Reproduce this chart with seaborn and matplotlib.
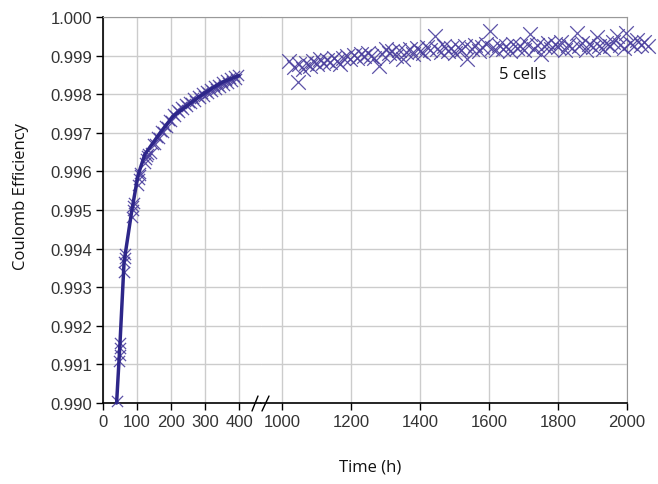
import matplotlib
matplotlib.use("Agg")
import matplotlib.pyplot as plt
import matplotlib.lines as mlines
import seaborn as sns
import pandas as pd

# early cycling phase (h, coulomb efficiency)
early_time = [40, 48, 49, 50, 51, 62, 63, 64, 66, 86, 88, 89, 90, 104, 106, 108, 110,
              124, 127, 130, 133, 140, 146, 152, 158, 164, 170, 176, 182, 188, 194, 200,
              206, 212, 218, 224, 230, 236, 242, 248, 254, 260, 266, 272, 278, 284, 290,
              296, 302, 308, 314, 320, 326, 332, 338, 344, 350, 356, 362, 368, 374, 380,
              386, 392, 398]
early_ce = [0.99005, 0.99110, 0.99125, 0.99142, 0.99155, 0.99340, 0.99365, 0.99375, 0.99385,
            0.99482, 0.99500, 0.99510, 0.99518, 0.99566, 0.99580, 0.99590, 0.99597,
            0.99622, 0.99633, 0.99640, 0.99645, 0.99648, 0.99670, 0.99672, 0.99688, 0.99686,
            0.99705, 0.99701, 0.99717, 0.99716, 0.99732, 0.99731, 0.99748, 0.99744, 0.99758,
            0.99753, 0.99767, 0.99762, 0.99775, 0.99769, 0.99781, 0.99776, 0.99789, 0.99783,
            0.99795, 0.99790, 0.99802, 0.99796, 0.99808, 0.99802, 0.99814, 0.99808, 0.99820,
            0.99814, 0.99825, 0.99819, 0.99831, 0.99825, 0.99837, 0.99830, 0.99841, 0.99835,
            0.99847, 0.99840, 0.99850]

# trend line through the early phase
trend_time = [40, 50, 62, 85, 103, 123, 168, 206, 250, 285, 320, 353, 390, 400]
trend_ce = [0.99000, 0.99155, 0.99366, 0.99500, 0.99590, 0.99644, 0.99700, 0.99743,
            0.99772, 0.99795, 0.99815, 0.99832, 0.99845, 0.99848]

# long-term phase
late_time = [1020, 1035, 1046, 1050, 1062, 1070, 1080, 1090, 1100, 1110, 1120, 1130, 1140,
             1150, 1160, 1168, 1178, 1188, 1198, 1208, 1218, 1228, 1238, 1248, 1258, 1268,
             1280, 1290, 1300, 1310, 1320, 1330, 1340, 1350, 1360, 1370, 1380, 1390, 1400,
             1410, 1420, 1430, 1443, 1450, 1460, 1470, 1480, 1490, 1500, 1510, 1520, 1530,
             1536, 1550, 1560, 1570, 1580, 1590, 1603, 1610, 1620, 1630, 1640, 1650, 1660,
             1670, 1680, 1690, 1700, 1710, 1719, 1730, 1740, 1750, 1760, 1770, 1780, 1790,
             1800, 1810, 1820, 1830, 1840, 1855, 1860, 1870, 1880, 1890, 1900, 1913, 1920,
             1930, 1940, 1950, 1960, 1971, 1980, 1990, 1998, 2010, 2020, 2030, 2040, 2050,
             2060]
late_ce = [0.99887, 0.99870, 0.99831, 0.99878, 0.99865, 0.99880, 0.99873, 0.99885, 0.99878,
           0.99891, 0.99880, 0.99888, 0.99884, 0.99895, 0.99886, 0.99878, 0.99893, 0.99899,
           0.99890, 0.99902, 0.99895, 0.99905, 0.99898, 0.99908, 0.99900, 0.99895, 0.99873,
           0.99905, 0.99918, 0.99908, 0.99912, 0.99900, 0.99915, 0.99891, 0.99910, 0.99918,
           0.99905, 0.99920, 0.99912, 0.99908, 0.99922, 0.99915, 0.99952, 0.99918, 0.99910,
           0.99925, 0.99912, 0.99920, 0.99908, 0.99922, 0.99915, 0.99926, 0.99891, 0.99918,
           0.99928, 0.99912, 0.99922, 0.99930, 0.99964, 0.99920, 0.99915, 0.99928, 0.99918,
           0.99925, 0.99912, 0.99930, 0.99920, 0.99926, 0.99915, 0.99930, 0.99955, 0.99918,
           0.99928, 0.99905, 0.99925, 0.99932, 0.99918, 0.99930, 0.99922, 0.99935, 0.99915,
           0.99928, 0.99920, 0.99958, 0.99925, 0.99932, 0.99915, 0.99930, 0.99922, 0.99948,
           0.99925, 0.99918, 0.99932, 0.99925, 0.99935, 0.99950, 0.99928, 0.99920, 0.99958,
           0.99932, 0.99925, 0.99940, 0.99928, 0.99935, 0.99925]

y_ticks = [0.990, 0.991, 0.992, 0.993, 0.994, 0.995, 0.996, 0.997, 0.998, 0.999, 1.000]
early_ticks = [0, 100, 200, 300, 400]
late_ticks = [1000, 1200, 1400, 1600, 1800, 2000]

MARK = '#4b409e'
LINE = '#2d2689'
GRID = '#cccccc'
FRAME = '#999999'
TICK_FONT = 'Liberation Sans'
LABEL_FONT = 'Open Sans'

sns.set_style('white')

W, H = 658, 485
fig = plt.figure(figsize=(W / 100, H / 100), dpi=100)
ax1 = fig.add_axes([103 / W, 81 / H, 158 / W, 386 / H])
ax2 = fig.add_axes([261 / W, 81 / H, 366 / W, 386 / H], sharey=ax1)

early = pd.DataFrame({'time': early_time, 'ce': early_ce})
trend = pd.DataFrame({'time': trend_time, 'ce': trend_ce})
late = pd.DataFrame({'time': late_time, 'ce': late_ce})

sns.scatterplot(data=early, x='time', y='ce', ax=ax1, marker='x', s=65, color=MARK,
                linewidth=0.9, alpha=0.9, clip_on=False, zorder=3)
sns.lineplot(data=trend, x='time', y='ce', ax=ax1, color=LINE, linewidth=2.5,
             clip_on=False, zorder=4)
sns.scatterplot(data=late, x='time', y='ce', ax=ax2, marker='x', s=110, color=MARK,
                linewidth=0.9, alpha=0.9, clip_on=False, zorder=3)

ax1.set_xlim(0, 464.7)
ax2.set_xlim(939, 2000)
ax1.set_ylim(0.990, 1.000)

ax1.set_xticks(early_ticks)
ax2.set_xticks(late_ticks)
ax1.set_yticks(y_ticks)
ax1.set_yticklabels([f'{v:.3f}' for v in y_ticks])

for ax in (ax1, ax2):
    ax.set_xlabel('')
    ax.set_ylabel('')
    ax.grid(True, color=GRID, linewidth=1)
    ax.set_axisbelow(True)
    ax.tick_params(axis='both', direction='out', length=5, width=1, color='black',
                   pad=3, labelsize=12, labelcolor='#333333')
    for lab in ax.get_xticklabels() + ax.get_yticklabels():
        lab.set_fontfamily(TICK_FONT)
    ax.spines['top'].set_color(FRAME)
    ax.spines['bottom'].set_color('black')
    ax.spines['bottom'].set_linewidth(1.2)

ax1.tick_params(axis='both', bottom=True, left=True)
ax1.spines['left'].set_color('black')
ax1.spines['left'].set_linewidth(1.2)
ax1.spines['right'].set_visible(False)
ax2.spines['left'].set_visible(False)
ax2.spines['right'].set_color(FRAME)
ax2.tick_params(axis='y', left=False, labelleft=False)
ax2.tick_params(axis='x', bottom=True)

# axis break marks
for x0, x1 in [(252, 258), (262, 269)]:
    fig.add_artist(mlines.Line2D([x0 / W, x1 / W], [1 - 412 / H, 1 - 397 / H],
                                 color='black', linewidth=1))

ax2.text(1699, 0.99852, '5 cells', ha='center', va='center', fontsize=12,
         family=LABEL_FONT, color='#111111')
fig.text(21 / W, 1 - 196 / H, 'Coulomb Efficiency', rotation=90, ha='center',
         va='center', fontsize=12, family=LABEL_FONT, color='#111111')
fig.text(370 / W, 1 - 468 / H, 'Time (h)', ha='center', va='center', fontsize=12,
         family=LABEL_FONT, color='#111111')

fig.savefig('out.png', dpi=100)
